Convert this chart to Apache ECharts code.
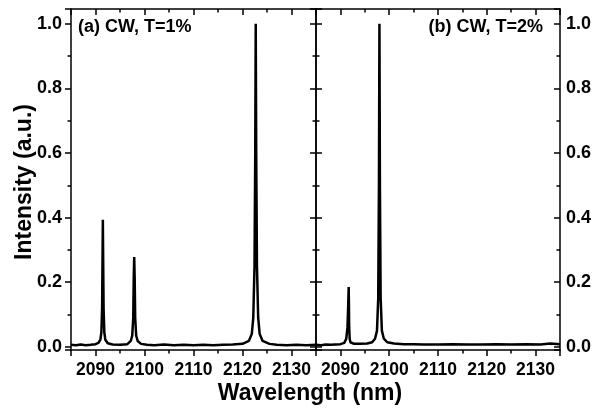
<!DOCTYPE html>
<html><head><meta charset="utf-8">
<script src="https://cdn.jsdelivr.net/npm/echarts@6/dist/echarts.min.js"></script>
<style>html,body{margin:0;padding:0;background:#fff}#c{width:594px;height:408px}</style>
</head><body><div id="c"></div>
<script>
// Panel (a) CW, T=1%
var wlA = [2085.0,2086.0,2087.0,2088.0,2089.0,2090.0,2090.6,2091.0,2091.2,2091.35,2091.45,2091.5,2091.55,2091.65,2091.8,2092.0,2092.5,2093.5,2095.0,2096.5,2097.2,2097.5,2097.7,2097.8,2097.9,2098.0,2098.1,2098.3,2098.6,2099.3,2100.5,2102.0,2104.0,2106.0,2108.0,2110.0,2112.0,2114.0,2116.0,2118.0,2120.0,2121.3,2121.9,2122.2,2122.45,2122.6,2122.7,2122.8,2122.95,2123.2,2123.5,2124.1,2125.5,2127.0,2129.0,2131.0,2133.0,2135.0];
var intA = [0.006,0.005,0.007,0.005,0.006,0.008,0.012,0.022,0.045,0.12,0.30,0.393,0.30,0.12,0.045,0.022,0.011,0.007,0.006,0.008,0.018,0.035,0.09,0.21,0.278,0.21,0.09,0.035,0.018,0.009,0.006,0.005,0.007,0.005,0.006,0.005,0.006,0.005,0.006,0.007,0.009,0.018,0.04,0.09,0.25,0.6,1.0,0.6,0.25,0.09,0.04,0.018,0.009,0.006,0.005,0.006,0.005,0.006];
// Panel (b) CW, T=2%
var wlB = [2085.0,2086.0,2087.0,2088.0,2089.0,2090.0,2090.8,2091.2,2091.45,2091.6,2091.7,2091.75,2091.8,2091.9,2092.05,2092.3,2092.8,2094.0,2095.5,2096.5,2097.1,2097.5,2097.75,2097.9,2098.0,2098.1,2098.25,2098.5,2098.9,2099.6,2101.0,2103.0,2105.0,2107.0,2110.0,2113.0,2116.0,2119.0,2122.0,2125.0,2128.0,2131.0,2133.0,2135.0];
var intB = [0.006,0.005,0.007,0.006,0.007,0.008,0.012,0.025,0.06,0.13,0.185,0.13,0.06,0.025,0.014,0.01,0.009,0.009,0.010,0.014,0.025,0.05,0.15,0.5,1.0,0.5,0.15,0.05,0.025,0.014,0.010,0.008,0.008,0.007,0.007,0.008,0.007,0.007,0.008,0.007,0.008,0.007,0.010,0.008];
var xTicks = [2090,2100,2110,2120,2130];
var yTicks = [0.0,0.2,0.4,0.6,0.8,1.0];
var panelLabels = ['(a) CW, T=1%','(b) CW, T=2%'];

function pairs(x,y){return x.map(function(v,i){return [v,y[i]];});}
var FONT='Liberation Sans';
var lineStyleAx={color:'#000',width:1.5};
function xAxis(grid,pos,labels){
  return {type:'value',gridIndex:grid,position:pos,min:2085,max:2135,minInterval:10,maxInterval:10,
    axisLine:{show:true,onZero:false,lineStyle:lineStyleAx},
    axisTick:{show:true,inside:pos==='top',length:6,lineStyle:{color:'#000',width:1.5}},
    minorTick:{show:true,splitNumber:2,length:3.5,lineStyle:{color:'#000',width:1.5}},
    splitLine:{show:false},
    axisLabel:{show:labels,showMinLabel:false,showMaxLabel:false,margin:11,color:'#000',fontFamily:FONT,fontWeight:'bold',fontSize:17.5,
      formatter:function(v){return xTicks.indexOf(v)>=0?String(v):'';}}};
}
function yAxis(grid,pos,inside,labels){
  return {type:'value',gridIndex:grid,position:pos,min:-0.01,max:1.046,minInterval:0.2,maxInterval:0.2,
    axisLine:{show:true,onZero:false,lineStyle:lineStyleAx},
    axisTick:{show:true,inside:inside,length:6,lineStyle:{color:'#000',width:1.5}},
    minorTick:{show:true,splitNumber:2,length:3.5,lineStyle:{color:'#000',width:1.5}},
    splitLine:{show:false},
    axisLabel:{show:labels,showMinLabel:false,showMaxLabel:false,margin:inside?6:9,color:'#000',fontFamily:FONT,fontWeight:'bold',fontSize:18,
      formatter:function(v){var r=Math.round(v*10)/10; return (Math.abs(v-r)<1e-6 && yTicks.indexOf(r)>=0)?r.toFixed(1):'';}}};
}
var chart=echarts.init(document.getElementById('c'),null,{renderer:'canvas'});
chart.setOption({
  animation:false,backgroundColor:'#fff',
  grid:[{left:71,top:9,width:245,height:341},{left:316,top:9,width:245,height:341}],
  xAxis:[xAxis(0,'bottom',true),xAxis(0,'top',false),xAxis(1,'bottom',true),xAxis(1,'top',false)],
  yAxis:[yAxis(0,'left',false,true),yAxis(0,'right',true,false),yAxis(1,'left',true,false),yAxis(1,'right',true,true)],
  series:[
    {type:'line',xAxisIndex:0,yAxisIndex:0,data:pairs(wlA,intA),showSymbol:false,lineStyle:{color:'#000',width:2.5},smooth:false},
    {type:'line',xAxisIndex:2,yAxisIndex:2,data:pairs(wlB,intB),showSymbol:false,lineStyle:{color:'#000',width:2.5},smooth:false}
  ],
  graphic:[
    {type:'text',left:78,top:18,style:{text:panelLabels[0],font:'bold 18px "Liberation Sans"',fill:'#000'}},
    {type:'text',right:51,top:18,style:{text:panelLabels[1],font:'bold 18px "Liberation Sans"',fill:'#000'}},
    {type:'text',x:310,y:394,style:{text:'Wavelength (nm)',font:'bold 23px "Liberation Sans"',fill:'#000',align:'center',verticalAlign:'middle'}},
    {type:'text',x:25,y:182,rotation:Math.PI/2,style:{text:'Intensity (a.u.)',font:'bold 23px "Liberation Sans"',fill:'#000',align:'center',verticalAlign:'middle'}}
  ]
});
</script></body></html>
